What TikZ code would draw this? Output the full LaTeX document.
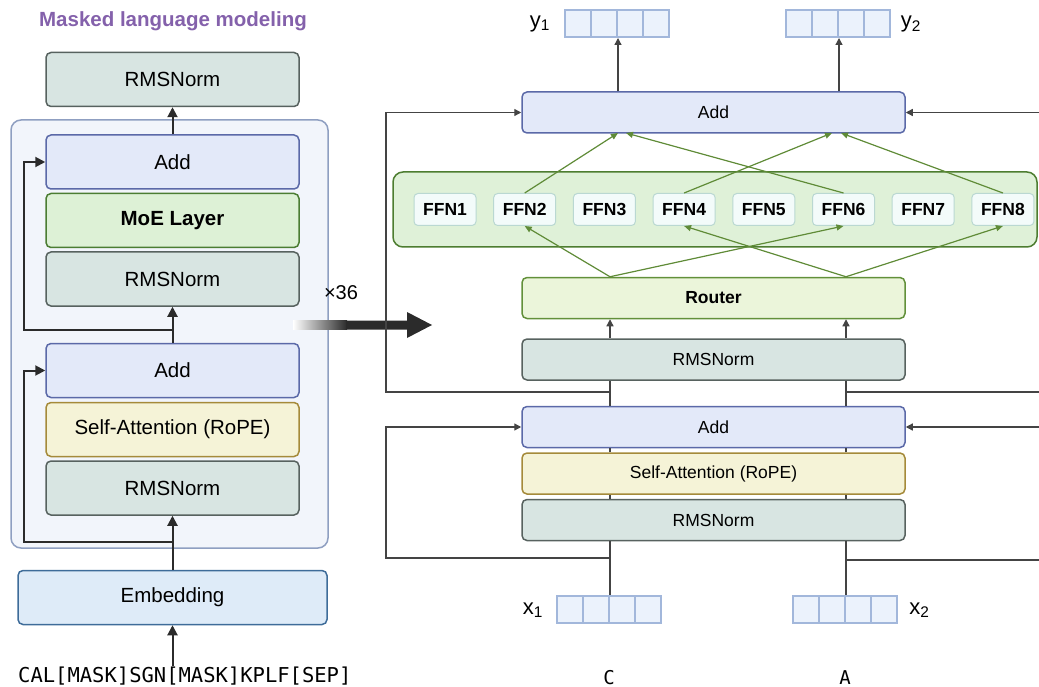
\documentclass[tikz,border=0pt]{standalone}
\usepackage{fontspec}
\setmainfont{Liberation Sans}
\newfontfamily\tokfont{DejaVu Sans Mono}
\usetikzlibrary{arrows.meta}

\definecolor{normfill}{HTML}{D8E5E2}
\definecolor{normline}{HTML}{57625F}
\definecolor{addfill}{HTML}{E3E9F9}
\definecolor{addline}{HTML}{5B69A8}
\definecolor{moefill}{HTML}{DDF1D6}
\definecolor{moeline}{HTML}{4B7D33}
\definecolor{attnfill}{HTML}{F5F3D7}
\definecolor{attnline}{HTML}{A58A3A}
\definecolor{routerfill}{HTML}{EBF5DA}
\definecolor{routerline}{HTML}{62903A}
\definecolor{embfill}{HTML}{DEEBF8}
\definecolor{embline}{HTML}{3E6C99}
\definecolor{blockfill}{HTML}{F2F5FB}
\definecolor{blockline}{HTML}{8F9FC1}
\definecolor{poolfill}{HTML}{DFF1D8}
\definecolor{poolline}{HTML}{4D7D30}
\definecolor{ffnfill}{HTML}{F3FBFA}
\definecolor{ffnline}{HTML}{BAD8D2}
\definecolor{cellfill}{HTML}{EBF2FC}
\definecolor{cellline}{HTML}{A2B7DB}
\definecolor{routeline}{HTML}{5F8B37}
\definecolor{lineblack}{HTML}{2B2B2B}
\definecolor{linegray}{HTML}{444444}
\definecolor{titlepurple}{HTML}{8461AB}

\begin{document}
\begin{tikzpicture}
  [x=1pt,y=-1pt,
   box/.style={draw,rounded corners=5pt,line width=1.5pt,inner sep=0pt},
   wide/.style={box,minimum width=253pt,minimum height=54pt,font=\fontsize{20.5}{24}\selectfont},
   slim/.style={box,minimum width=383pt,minimum height=41pt,font=\fontsize{17.5}{21}\selectfont},
   normbox/.style={fill=normfill,draw=normline},
   addbox/.style={fill=addfill,draw=addline},
   moebox/.style={fill=moefill,draw=moeline},
   attnbox/.style={fill=attnfill,draw=attnline},
   routerbox/.style={fill=routerfill,draw=routerline},
   embbox/.style={fill=embfill,draw=embline},
   ffnbox/.style={box,fill=ffnfill,draw=ffnline,line width=1pt,rounded corners=4pt,
     minimum width=62pt,minimum height=32pt,font=\fontsize{17.5}{21}\selectfont\bfseries},
   cell/.style={draw=cellline,fill=cellfill,line width=2pt,minimum width=26pt,minimum height=27pt,inner sep=0pt},
   lbl/.style={font=\fontsize{22}{26}\selectfont,inner sep=0pt},
   conn/.style={draw=lineblack,line width=2pt,-{Triangle[length=10pt,width=10pt]}},
   wire/.style={draw=linegray,line width=1.3pt},
   tipR/.style={-{Triangle[length=7pt,width=7pt]}},
   route/.style={draw=routeline,line width=1.2pt,-{Triangle[length=7pt,width=6pt]}}]
  \useasboundingbox (0,0) rectangle (1039,687);

  % left: encoder stack
  \node[text=titlepurple,font=\fontsize{20.5}{24}\selectfont\bfseries] (title) at (173,21) {Masked language modeling};
  \node[box,fill=blockfill,draw=blockline,rounded corners=10pt,minimum width=317pt,minimum height=428pt] (block) at (169.5,334) {};
  \node[wide,normbox] (normtop) at (172.5,79.5) {RMSNorm};
  \node[wide,addbox] (add2) at (172.5,162) {Add};
  \node[wide,moebox,font=\fontsize{20.5}{24}\selectfont\bfseries] (moe) at (172.5,220.5) {MoE Layer};
  \node[wide,normbox] (norm2) at (172.5,279) {RMSNorm};
  \node[wide,addbox] (add1) at (172.5,370.5) {Add};
  \node[wide,attnbox] (attn1) at (172.5,429.5) {Self-Attention (RoPE)};
  \node[wide,normbox] (norm1) at (172.5,488) {RMSNorm};
  \node[wide,embbox,minimum width=309pt] (emb) at (172.5,597.5) {Embedding};
  \node[anchor=base west,font=\tokfont\fontsize{20.5}{24}\selectfont,inner sep=0pt] (tok) at (18,682) {CAL[MASK]SGN[MASK]KPLF[SEP]};

  \coordinate (lx) at (24,0);
  \coordinate (r1) at (172.5,542);
  \coordinate (r2) at (172.5,330);
  \draw[conn] (emb.south |- tok.north) -- (emb.south);
  \draw[conn] (emb.north) -- (norm1.south);
  \draw[conn] (r1) -- (r1 -| lx) |- (add1.west);
  \draw[conn] (add1.north) -- (norm2.south);
  \draw[conn] (r2) -- (r2 -| lx) |- (add2.west);
  \draw[conn] (add2.north) -- (normtop.south);

  % repeat arrow
  \node[font=\fontsize{20}{24}\selectfont,inner sep=0pt] (rep) at (341,293) {×36};
  \shade[left color=white,right color=lineblack] (293,320.5) rectangle (347,329.5);
  \fill[lineblack] (346,320.5) -- (407,320.5) -- (407,312) -- (432,325) -- (407,338)
    -- (407,329.5) -- (346,329.5) -- cycle;

  % right: one layer for two tokens
  \node[slim,addbox] (addT) at (713.5,112.5) {Add};
  \node[box,fill=poolfill,draw=poolline,rounded corners=10pt,minimum width=644pt,minimum height=75pt] (pool) at (715,209.5) {};
  \foreach \i in {1,...,8}
    \node[ffnbox] (f\i) at ({365.3+79.7*\i},209.5) {FFN\i};
  \node[slim,routerbox,font=\fontsize{17.5}{21}\selectfont\bfseries] (router) at (713.5,298) {Router};
  \node[slim,normbox] (normM) at (713.5,359.5) {RMSNorm};
  \node[slim,addbox] (addR) at (713.5,427) {Add};
  \node[slim,attnbox] (attnR) at (713.5,473.5) {Self-Attention (RoPE)};
  \node[slim,normbox] (normR) at (713.5,520) {RMSNorm};

  \foreach \v/\x/\y in {vy1/565/23.5,vy2/786/23.5,vx1/557/609.5,vx2/793/609.5}
    \foreach \i in {0,...,3}
      \node[cell] (\v-\i) at ({\x+13+26*\i},\y) {};
  \node[lbl] (ly1) at (540,24) {y\textsubscript{1}};
  \node[lbl] (ly2) at (911,24) {y\textsubscript{2}};
  \node[lbl] (lx1) at (533,610) {x\textsubscript{1}};
  \node[lbl] (lx2) at (919.5,610) {x\textsubscript{2}};
  \node[font=\tokfont\fontsize{19}{22}\selectfont,anchor=base,inner sep=0pt] (tc) at (609,684) {C};
  \node[font=\tokfont\fontsize{19}{22}\selectfont,anchor=base,inner sep=0pt] (ta) at (845,684) {A};

  \coordinate (c1) at (vx1-1.north east);
  \coordinate (c2) at (vx2-1.north east);
  \foreach \c in {c1,c2}{
    \draw[wire] (\c) -- (normR.south -| \c);
    \foreach \a/\b in {normR/attnR,attnR/addR,addR/normM}
      \draw[wire] (\a.north -| \c) -- (\b.south -| \c);
    \draw[wire,tipR] (normM.north -| \c) -- (router.south -| \c);
  }
  \draw[wire,tipR] (addT.north -| vy1-1.south east) -- (vy1-1.south east);
  \draw[wire,tipR] (addT.north -| vy2-1.south east) -- (vy2-1.south east);

  % residuals
  \coordinate (edgeL) at (386,0);
  \coordinate (edgeR) at (1039,0);
  \coordinate (s1) at (609,558);
  \coordinate (s2) at (845,560);
  \coordinate (s3) at (609,392);
  \coordinate (s4) at (845,392);
  \draw[wire,tipR] (s1) -- (s1 -| edgeL) |- (addR.west);
  \draw[wire,tipR] (s3) -- (s3 -| edgeL) |- (addT.west);
  \draw[wire] (s2) -- (s2 -| edgeR);
  \draw[wire] (s4) -- (s4 -| edgeR);
  \draw[wire,tipR] (addR.east -| edgeR) -- (addR.east);
  \draw[wire,tipR] (addT.east -| edgeR) -- (addT.east);

  % routing
  \coordinate (ra) at (router.north -| c1);
  \coordinate (rb) at (router.north -| c2);
  \coordinate (o1) at (618,133);
  \coordinate (o2) at (626,133);
  \coordinate (o3) at (832,133);
  \coordinate (o4) at (841,133);
  \foreach \from/\to in {ra/f2,ra/f6,rb/f4,rb/f8}
    \draw[route] (\from) -- (\to.south);
  \foreach \from/\to in {f2/o1,f6/o2,f4/o3,f8/o4}
    \draw[route] (\from.north) -- (\to);
\end{tikzpicture}
\end{document}
